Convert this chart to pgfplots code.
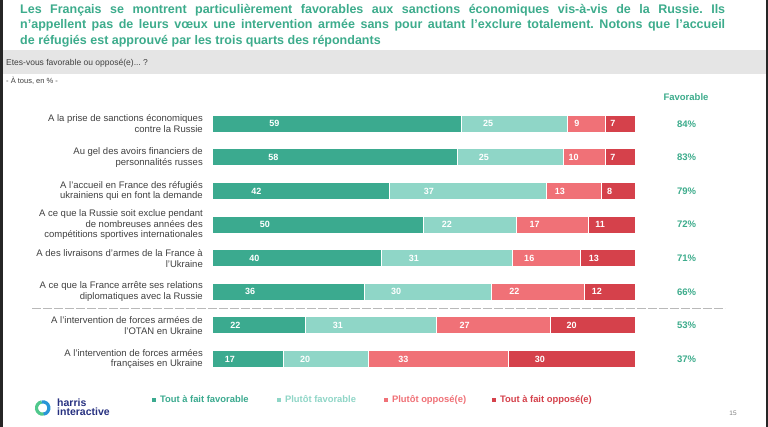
\documentclass[border=0pt]{standalone}
\usepackage{pgfplots}
\pgfplotsset{compat=1.18}
\usepackage{pgfplotstable}
\usepackage{fontspec}
\setmainfont{Liberation Sans}
\frenchspacing
\definecolor{cA}{RGB}{59,170,143}
\definecolor{cB}{RGB}{143,214,199}
\definecolor{cC}{RGB}{240,113,119}
\definecolor{cD}{RGB}{213,65,75}
\definecolor{ttl}{RGB}{61,172,140}
\definecolor{band}{RGB}{229,229,229}
\definecolor{lbl}{RGB}{64,64,64}
\definecolor{navy}{RGB}{38,48,128}

\pgfplotstableread{
y a b c d f
7 59 25 9 7 84
6 58 25 10 7 83
5 42 37 13 8 79
4 50 22 17 11 72
3 40 31 16 13 71
2 36 30 22 12 66
1 22 31 27 20 53
0 17 20 33 30 37
}\data

\begin{document}
\begin{tikzpicture}[x=1pt,y=1pt]
\path[use as bounding box] (0,0) rectangle (768,427);
\fill[white] (0,0) rectangle (768,427);
\fill[black!85] (0,0) rectangle (2.5,427);
\fill[black!85] (765.5,0) rectangle (768,427);
\fill[band] (2.5,353) rectangle (765.5,377);

% title
\begin{scope}[every node/.style={anchor=base west, inner sep=0pt, text=ttl, font=\bfseries\fontsize{12.5}{14}\selectfont}]
\node at (20,413.5) {\makebox[705pt][s]{Les Français se montrent particulièrement favorables aux sanctions économiques vis-à-vis de la Russie. Ils}};
\node at (20,398) {\makebox[705pt][s]{n’appellent pas de leurs vœux une intervention armée sans pour autant l’exclure totalement. Notons que l’accueil}};
\node at (20,382.5) {de réfugiés est approuvé par les trois quarts des répondants};
\end{scope}

\node[anchor=base west, inner sep=0pt, text=lbl, font=\fontsize{8.5}{9}\selectfont] at (6,361) {Etes-vous favorable ou opposé(e)... ?};
\node[anchor=base west, inner sep=0pt, text=lbl, font=\fontsize{7.5}{8}\selectfont] at (6,343) {- À tous, en \% -};

\draw[gray!55, line width=0.6pt, dash pattern=on 9pt off 2pt] (32,119) -- (725,119);

\node[anchor=center, text=ttl, font=\bfseries\fontsize{9.5}{10}\selectfont] at (686,330) {Favorable};

\begin{axis}[
  at={(212pt,51.2pt)}, anchor=south west,
  scale only axis, width=423pt, height=268.8pt,
  xbar stacked, bar width=17pt,
  xmin=0, xmax=100, ymin=-0.5, ymax=7.5,
  axis line style={draw=none},
  xtick=\empty, ytick={0,...,7}, major tick length=0pt,
  yticklabels={{A l’intervention de forces armées\\françaises en Ukraine},
    {A l’intervention de forces armées de\\l’OTAN en Ukraine},
    {A ce que la France arrête ses relations\\diplomatiques avec la Russie},
    {A des livraisons d’armes de la France à\\l’Ukraine},
    {A ce que la Russie soit exclue pendant\\de nombreuses années des\\compétitions sportives internationales},
    {A l’accueil en France des réfugiés\\ukrainiens qui en font la demande},
    {Au gel des avoirs financiers de\\personnalités russes},
    {A la prise de sanctions économiques\\contre la Russie}},
  yticklabel style={align=right, inner sep=0pt, xshift=-9pt, text=lbl, font=\fontsize{9.5}{10.8}\selectfont},
  clip=false,
  /pgf/number format/assume math mode=true,
  point meta=explicit,
  nodes near coords,
  nodes near coords style={anchor=center, text=white, font=\bfseries\fontsize{9}{10}\selectfont},
  visualization depends on={rawx \as \rawx},
  every node near coord/.append style={shift={(axis direction cs:-\rawx/4,0)}},
  legend image code/.code={\fill[#1, draw=none] (0pt,-1.75pt) rectangle (3.5pt,1.75pt);},
  legend style={draw=none, fill=none, legend columns=4, at={(-0.1418,-0.09)}, anchor=west,
    inner sep=0pt, outer sep=0pt, nodes={inner sep=0pt},
    font=\bfseries\fontsize{9.4}{10}\selectfont,
    /tikz/every odd column/.append style={column sep=4.5pt},
    /tikz/every even column/.append style={column sep=0pt}},
]
\addplot[fill=cA, draw=white, line width=0.9pt] table[x=a, y=y, meta=a]{\data};
\addlegendentry{\makebox[117pt][l]{\textcolor{cA}{Tout à fait favorable}}}
\addplot[fill=cB, draw=white, line width=0.9pt] table[x=b, y=y, meta=b]{\data};
\addlegendentry{\makebox[99pt][l]{\textcolor{cB}{Plutôt favorable}}}
\addplot[fill=cC, draw=white, line width=0.9pt] table[x=c, y=y, meta=c]{\data};
\addlegendentry{\makebox[100pt][l]{\textcolor{cC}{Plutôt opposé(e)}}}
\addplot[fill=cD, draw=white, line width=0.9pt] table[x=d, y=y, meta=d]{\data};
\addlegendentry{\textcolor{cD}{Tout à fait opposé(e)}}
\end{axis}

\begin{axis}[
  at={(212pt,51.2pt)}, anchor=south west,
  scale only axis, width=423pt, height=268.8pt,
  xmin=0, xmax=100, ymin=-0.5, ymax=7.5,
  hide axis, clip=false,
  /pgf/number format/assume math mode=true,
  point meta=explicit,
  nodes near coords={\pgfmathprintnumber{\pgfplotspointmeta}\%},
  nodes near coords style={anchor=center, text=ttl, font=\bfseries\fontsize{9.5}{10}\selectfont},
]
\addplot[draw=none, mark=none, only marks] table[x expr=112.2, y=y, meta=f]{\data};
\end{axis}

% logo
\draw[line width=3.2pt, color={rgb,255:red,80;green,200;blue,140}] (42.7,19) ++(100:6.2) arc (100:280:6.2);
\draw[line width=3.2pt, color={rgb,255:red,40;green,150;blue,215}] (42.7,19) ++(-80:6.2) arc (-80:100:6.2);
\node[anchor=base west, inner sep=0pt, text=navy, font=\bfseries\fontsize{10.5}{10}\selectfont] at (57,20.5) {harris};
\node[anchor=base west, inner sep=0pt, text=navy, font=\bfseries\fontsize{10.5}{10}\selectfont] at (57,11.5) {interactive};
\node[anchor=center, text=gray, font=\fontsize{6.5}{7}\selectfont] at (733,14) {15};
\end{tikzpicture}
\end{document}
